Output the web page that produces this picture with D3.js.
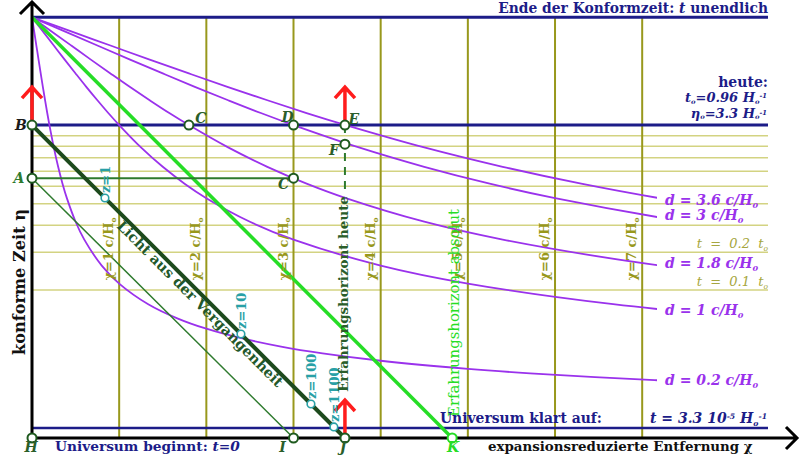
<!DOCTYPE html>
<html><head><meta charset="utf-8">
<script src="https://cdn.jsdelivr.net/npm/d3@7"></script>
<style>body{margin:0;background:#fff}svg{display:block}text{font-family:"DejaVu Serif",serif}</style>
</head><body><svg id="c" width="800" height="457"></svg>
<script>
// ---------- data ----------
const chiGrid = [1, 2, 3, 4, 5, 6, 7];                       // χ grid lines (c/H0)
const timeLineEta = [3.192, 3.081, 2.960, 2.818, 2.659, 2.475, 2.248, 1.963, 1.562]; // t = 0.9..0.1 t0
const timeLabelText = ["0.2", "0.1"];
const timeLabelEta = [1.963, 1.562];
const curveD = [3.6, 3, 1.8, 1, 0.2];                       // proper distance today
// scale factor a at conformal time η (H0^-1)
const tableEta = [0.577, 0.611, 0.683, 0.730, 0.816, 0.894, 0.966, 1.065, 1.154, 1.264, 1.413, 1.631, 1.821, 2.095, 2.284, 2.533, 2.686, 2.864, 3.069, 3.305, 3.432, 3.567, 3.706, 3.850, 3.996, 4.145, 4.294, 4.443];
const tableA   = [0.025, 0.028, 0.035, 0.040, 0.050, 0.060, 0.070, 0.085, 0.100, 0.120, 0.150, 0.200, 0.250, 0.3333, 0.400, 0.500, 0.5714, 0.6667, 0.800, 1.000, 1.1429, 1.3333, 1.600, 2.000, 2.6667, 4.000, 8.000, Infinity];
const etaEnd = 4.443, eta0 = 3.305, etaA = 2.744, etaF = 3.103, etaDecouple = 0.106, etaHeuteTop = 2.596;
const chiJ = 3.59, chiK = 4.82, chiI = 3.0;
const pointNames = ["B", "A", "C", "D", "E", "F", "C", "H", "I", "J", "K"];
const pointChi   = [0, 0, 1.8, 3, 3.59, 3.59, 3, 0, 3, 3.59, 4.82];
const pointEta   = [eta0, etaA, eta0, eta0, eta0, etaF, etaA, 0, 0, 0, 0];
const zLabels = ["1", "10", "100", "1100"];
const zChi    = [0.837, 2.397, 3.20, 3.463];

// ---------- layout ----------
const svg = d3.select("#c");
const x = d3.scaleLinear().domain([0, 8]).range([32, 32 + 8 * 87.17]);
const y = d3.scaleLinear().domain([0, etaEnd]).range([438, 17.3]);
const xEnd = 768, clipX = 657;
const navy = "#1c1c88", purple = "#9a32ec", olive = "#98981c", oliveLight = "#d3d382",
      dkGreen = "#1d4a1d", midGreen = "#2e7a2e", bright = "#26dd26", teal = "#28a0a6", red = "#ff1c1c";

function rich(t, parts, base, subS = 0.22, supS = -0.38, sz = 0.58) {
  let shift = 0;
  parts.forEach(p => {
    const s = p[0], st = p[1] || "";
    const ts = t.append("tspan").text(s);
    let target = 0;
    if (st.includes("sub")) target = base * subS;
    if (st.includes("sup")) target = base * supS;
    const dy = target - shift; shift = target;
    if (dy !== 0) ts.attr("dy", dy);
    if (st.includes("sub") || st.includes("sup")) ts.attr("font-size", base * sz);
    if (st.includes("it")) ts.attr("font-style", "italic");
  });
}
function fit(sel, target) {
  const L = sel.node().getComputedTextLength();
  const fs = +sel.attr("font-size");
  if (L > 0) sel.attr("font-size", (fs * target / L).toFixed(2));
  return sel;
}

// time lines
svg.append("g").selectAll("line").data(timeLineEta).join("line")
  .attr("x1", x(0)).attr("x2", xEnd).attr("y1", d => y(d)).attr("y2", d => y(d))
  .attr("stroke", oliveLight).attr("stroke-width", 1.5);

// χ grid lines
svg.append("g").selectAll("line").data(chiGrid).join("line")
  .attr("x1", d => x(d)).attr("x2", d => x(d)).attr("y1", y(etaEnd)).attr("y2", y(0))
  .attr("stroke", olive).attr("stroke-width", 2);

// navy horizontal lines
[[etaEnd, 3], [eta0, 3], [etaDecouple, 2.5]].forEach(([e, w]) =>
  svg.append("line").attr("x1", x(0)).attr("x2", xEnd).attr("y1", y(e)).attr("y2", y(e))
    .attr("stroke", navy).attr("stroke-width", w));

// purple curves (constant proper distance)
svg.append("clipPath").attr("id", "cp").append("rect").attr("x", 0).attr("y", 0).attr("width", clipX).attr("height", 457);
const line = d3.line().x(d => x(d[0])).y(d => y(d[1])).curve(d3.curveCatmullRom.alpha(0.5));
const cg = svg.append("g").attr("clip-path", "url(#cp)");
curveD.forEach(d => {
  let pts = tableEta.map((e, i) => [d / tableA[i], e]);
  let k = pts.findIndex(p => p[0] <= 8.5);
  pts = pts.slice(Math.max(0, k - 1));
  cg.append("path").attr("d", line(pts)).attr("fill", "none").attr("stroke", purple).attr("stroke-width", 1.8);
});

// event horizon (absolute)
svg.append("line").attr("x1", x(0)).attr("y1", y(etaEnd)).attr("x2", x(chiK)).attr("y2", y(0))
  .attr("stroke", bright).attr("stroke-width", 3.5);

// A line and light from A
svg.append("line").attr("x1", x(0)).attr("y1", y(etaA)).attr("x2", x(3)).attr("y2", y(etaA))
  .attr("stroke", midGreen).attr("stroke-width", 2);
svg.append("line").attr("x1", x(0)).attr("y1", y(etaA)).attr("x2", x(chiI)).attr("y2", y(0))
  .attr("stroke", midGreen).attr("stroke-width", 1.5);
// light from the past (thick)
svg.append("line").attr("x1", x(0)).attr("y1", y(eta0)).attr("x2", x(chiJ)).attr("y2", y(0))
  .attr("stroke", dkGreen).attr("stroke-width", 4);

// dashed horizon today
svg.append("line").attr("x1", x(chiJ)).attr("x2", x(chiJ)).attr("y1", y(eta0)).attr("y2", y(etaHeuteTop))
  .attr("stroke", midGreen).attr("stroke-width", 2).attr("stroke-dasharray", "8,6");

// axes
svg.append("path").attr("d", `M${x(0)},${y(0)}V2M20,14L${x(0)},2L44,14`).attr("fill", "none")
  .attr("stroke", "#000").attr("stroke-width", 3);
svg.append("path").attr("d", `M${x(0)},${y(0)}H797M786,427L797,${y(0)}L786,449`).attr("fill", "none")
  .attr("stroke", "#000").attr("stroke-width", 3);

// red arrows at B, E, J
[[0, eta0], [chiJ, eta0], [chiJ, 0]].forEach(([c, e]) => {
  const px = x(c), py = y(e);
  svg.append("path").attr("d", `M${px},${py}V${py - 38}M${px - 10},${py - 27}L${px},${py - 38}L${px + 10},${py - 27}`)
    .attr("fill", "none").attr("stroke", red).attr("stroke-width", 3.5);
});

// z markers on light line
const lightEta = d3.scaleLinear().domain([0, chiJ]).range([eta0, 0]);
zChi.forEach((c, i) => {
  const px = x(c), py = y(lightEta(c));
  svg.append("circle").attr("cx", px).attr("cy", py).attr("r", 3.8).attr("fill", "#fff")
    .attr("stroke", teal).attr("stroke-width", 1.6);
  svg.append("text").attr("transform", `translate(${px + 5},${py - 5}) rotate(-90)`)
    .attr("font-size", 13).attr("font-weight", "bold").attr("fill", teal).text("z=" + zLabels[i]);
});

// points
const ptColor = { B: "#1b1b1b", A: midGreen, K: bright };
const ptOff = [[-11, 5], [-13, 5], [12, -2], [-6, -3], [9, -1], [-11, 11], [-10, 11], [-1, 14], [-11, 14], [-2, 14], [1, 14]];
pointNames.forEach((n, i) => {
  const px = x(pointChi[i]), py = y(pointEta[i]);
  svg.append("circle").attr("cx", px).attr("cy", py).attr("r", 4.5).attr("fill", "#fff")
    .attr("stroke", n === "K" ? bright : "#1f5a1f").attr("stroke-width", 2);
  svg.append("text").attr("x", px + ptOff[i][0]).attr("y", py + ptOff[i][1]).attr("text-anchor", "middle")
    .attr("font-size", 14).attr("font-weight", "bold").attr("font-style", "italic")
    .attr("fill", ptColor[n] || "#2a5e2a").text(n);
});

// χ labels
chiGrid.forEach(c => {
  const t = svg.append("text").attr("transform", `translate(${x(c) - 6},249) rotate(-90)`)
    .attr("text-anchor", "middle").attr("font-size", 13).attr("font-weight", "bold").attr("fill", olive);
  rich(t, [["χ=" + c + " c/H"], ["o", "sub"]], 13);
});

// curve labels
const curveLabelY = [205, 220, 268, 315, 385];
curveD.forEach((d, i) => {
  const t = svg.append("text").attr("x", 665).attr("y", curveLabelY[i]).attr("font-size", 14)
    .attr("font-weight", "bold").attr("font-style", "italic").attr("fill", purple);
  rich(t, [["d = " + d + " c/H"], ["0", "sub"]], 14);
});

// time labels
timeLabelText.forEach((s, i) => {
  const t = svg.append("text").attr("x", 768).attr("y", y(timeLabelEta[i]) - 4).attr("text-anchor", "end")
    .attr("font-size", 13).attr("font-style", "italic").attr("fill", "#a6a640").attr("xml:space", "preserve");
  rich(t, [["t  =  " + s + "  t"], ["o", "sub"]], 13);
});

// horizon texts
fit(svg.append("text").attr("transform", "translate(459,313) rotate(-90)").attr("text-anchor", "middle")
  .attr("font-size", 13).attr("fill", bright).text("Erfahrungshorizont absolut"), 208);
fit(svg.append("text").attr("transform", "translate(348,294) rotate(-90)").attr("text-anchor", "middle")
  .attr("font-size", 13).attr("font-weight", "bold").attr("fill", "#2a5e2a")
  .text("Erfahrungshorizont heute"), 196);

// light text along the thick line
{
  const ang = Math.atan2(y(0) - y(eta0), x(chiJ) - x(0)) * 180 / Math.PI;
  const c = 1.99;
  fit(svg.append("text").attr("transform", `translate(${x(c)},${y(lightEta(c))}) rotate(${ang})`)
    .attr("dy", 12.5).attr("text-anchor", "middle").attr("font-size", 13).attr("font-weight", "bold")
    .attr("fill", "#22582a").text("Licht aus der Vergangenheit"), 228);
}

// navy texts
{
  let t = svg.append("text").attr("x", 768).attr("y", 13).attr("text-anchor", "end").attr("font-size", 14)
    .attr("font-weight", "bold").attr("fill", navy);
  rich(t, [["Ende der Konformzeit: "], ["t", "it"], [" unendlich"]], 14);
  fit(t, 270);
  svg.append("text").attr("x", 768).attr("y", 87).attr("text-anchor", "end").attr("font-size", 14)
    .attr("font-weight", "bold").attr("fill", navy).text("heute:");
  t = svg.append("text").attr("x", 767).attr("y", 102).attr("text-anchor", "end").attr("font-size", 13)
    .attr("font-weight", "bold").attr("font-style", "italic").attr("fill", navy);
  rich(t, [["t"], ["o", "sub"], ["=0.96 H"], ["o", "sub"], ["-1", "sup"]], 13, 0.15, -0.3, 0.52);
  t = svg.append("text").attr("x", 767).attr("y", 118).attr("text-anchor", "end").attr("font-size", 13)
    .attr("font-weight", "bold").attr("font-style", "italic").attr("fill", navy);
  rich(t, [["η"], ["o", "sub"], ["=3.3 H"], ["o", "sub"], ["-1", "sup"]], 13, 0.1, -0.25, 0.52);
  fit(svg.append("text").attr("x", 440).attr("y", 423).attr("font-size", 14).attr("font-weight", "bold")
    .attr("fill", navy).text("Universum klart auf:"), 162);
  t = svg.append("text").attr("x", 767).attr("y", 423).attr("text-anchor", "end").attr("font-size", 14)
    .attr("font-weight", "bold").attr("font-style", "italic").attr("fill", navy).attr("xml:space", "preserve");
  rich(t, [["t = 3.3 10"], ["-5", "sup"], [" H"], ["o", "sub"], ["-1", "sup"]], 14, 0.18, -0.3, 0.55);
  t = svg.append("text").attr("x", 55).attr("y", 451).attr("font-size", 14).attr("font-weight", "bold")
    .attr("fill", navy);
  rich(t, [["Universum beginnt: "], ["t=0", "it"]], 14);
  fit(t, 185);
}

// axis titles
fit(svg.append("text").attr("x", 488).attr("y", 451).attr("font-size", 14).attr("font-weight", "bold")
  .attr("fill", "#111").text("expansionsreduzierte Entfernung χ"), 265);
fit(svg.append("text").attr("transform", "translate(25,282) rotate(-90)").attr("text-anchor", "middle")
  .attr("font-size", 14).attr("font-weight", "bold").attr("fill", "#111").text("konforme Zeit η"), 146);
</script></body></html>
